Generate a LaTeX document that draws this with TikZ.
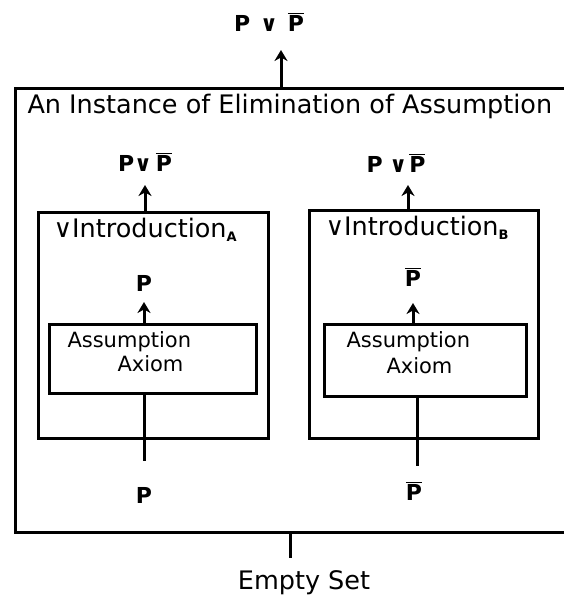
\documentclass[tikz,border=0pt]{standalone}
\usepackage{fontspec}
\setmainfont{DejaVu Sans}
\usetikzlibrary{arrows.meta}
\newcommand{\notp}{$\overline{\mbox{\bfseries P}}$}
\newcommand{\subl}[1]{$_{\mbox{\fontsize{13}{13}\selectfont\bfseries #1}}$}

\begin{document}
\begin{tikzpicture}[x=1pt, y=-1pt, >={Stealth[length=11pt, width=13pt]}, line width=3pt,
    box/.style={draw, rectangle, inner sep=0pt, anchor=north west},
    lbl/.style={font=\fontsize{25.5}{28}\selectfont, inner sep=0pt},
    sub/.style={font=\fontsize{21}{23}\selectfont, inner sep=0pt, anchor=west},
    frm/.style={font=\fontsize{22}{24}\selectfont\bfseries, inner sep=0pt}]
    \useasboundingbox (0,0) rectangle (564,597);
    % outer box
    \node[box, minimum width=560pt, minimum height=444pt] (elim) at (14,87) {};
    \node[lbl, anchor=west] (title) at (26,106) {An Instance of Elimination of Assumption};
    \node[frm] (top) at (269,22) {P\hspace{0.45em}∨\hspace{0.45em}\notp};
    \coordinate (topTip) at (281,50);
    \draw[->] (elim.north -| topTip) -- (topTip);
    % left branch
    \node[box, minimum width=230pt, minimum height=226pt] (introA) at (37,211) {};
    \node[lbl, anchor=west] (nameA) at (52,230) {∨Introduction\subl{A}};
    \node[frm] (outA) at (145,162) {P∨\,\notp};
    \coordinate (tipA) at (145,185);
    \draw[->] (introA.north -| tipA) -- (tipA);
    \node[box, minimum width=207pt, minimum height=69pt] (asmA) at (48,323) {};
    \node[sub] (asmA1) at (66,342) {Assumption};
    \node[sub] (asmA2) at (116,364) {Axiom};
    \node[frm] (midA) at (144,283) {P};
    \coordinate (tipA2) at (144,302);
    \draw[->] (asmA.north -| tipA2) -- (tipA2);
    \node[frm] (inA) at (144,495) {P};
    \coordinate (endA) at (144,461);
    \draw (asmA.south -| endA) -- (endA);
    % right branch
    \node[box, minimum width=229pt, minimum height=228pt] (introB) at (308,209) {};
    \node[lbl, anchor=west] (nameB) at (324,228) {∨Introduction\subl{B}};
    \node[frm] (outB) at (396,163) {P\hspace{0.3em}∨\hspace{0.1em}\notp};
    \coordinate (tipB) at (408,185);
    \draw[->] (introB.north -| tipB) -- (tipB);
    \node[box, minimum width=202pt, minimum height=72pt] (asmB) at (323,323) {};
    \node[sub] (asmB1) at (345,342) {Assumption};
    \node[sub] (asmB2) at (385,366) {Axiom};
    \node[frm] (midB) at (413,277) {\notp};
    \coordinate (tipB2) at (413,303);
    \draw[->] (asmB.north -| tipB2) -- (tipB2);
    \node[frm] (inB) at (414,491) {\notp};
    \coordinate (endB) at (417,466);
    \draw (asmB.south -| endB) -- (endB);
    % result
    \node[lbl] (empty) at (304,583) {Empty Set};
    \coordinate (endE) at (290,558);
    \draw (elim.south -| endE) -- (endE);
\end{tikzpicture}
\end{document}
